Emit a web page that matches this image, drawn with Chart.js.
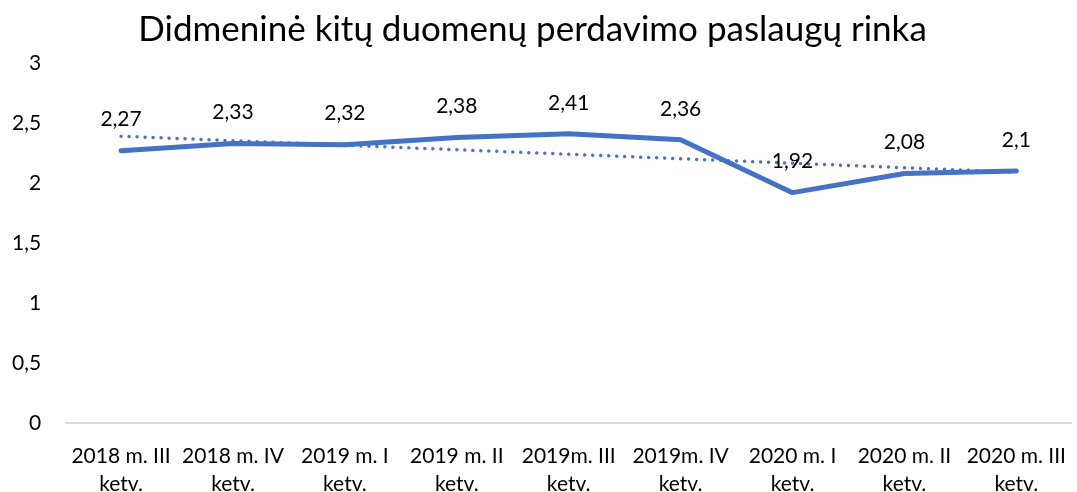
<!DOCTYPE html>
<html>
<head>
<meta charset="utf-8">
<script src="https://cdn.jsdelivr.net/npm/chart.js@4"></script>
<style>
  html, body { margin: 0; padding: 0; background: #fff; }
  #wrap { width: 1077px; height: 492px; }
</style>
</head>
<body>
<div id="wrap"><canvas id="chart"></canvas></div>
<script>
const categories = [
    ["2018 m. III", "ketv."], ["2018 m. IV", "ketv."], ["2019 m. I", "ketv."],
    ["2019 m. II", "ketv."], ["2019m. III", "ketv."], ["2019m. IV", "ketv."],
    ["2020 m. I", "ketv."], ["2020 m. II", "ketv."], ["2020 m. III", "ketv."]
];
const values = [2.27, 2.33, 2.32, 2.38, 2.41, 2.36, 1.92, 2.08, 2.1];
// trendline ends
const trendStart = 2.39;
const trendEnd = 2.09;
const yTicks = [0, 0.5, 1, 1.5, 2, 2.5, 3];

const FONT = "Lato, 'Open Sans', sans-serif";
const BLUE = "#4472C4";

const trend = values.map((v, i) => i === 0 ? trendStart : i === values.length - 1 ? trendEnd : null);
const fmt = v => String(v).replace(".", ",");

const labelPlugin = {
    id: "valueLabels",
    afterDatasetsDraw(chart) {
        const ctx = chart.ctx;
        const meta = chart.getDatasetMeta(0);
        ctx.save();
        ctx.fillStyle = "#000";
        ctx.font = `21px ${FONT}`;
        ctx.textAlign = "center";
        ctx.textBaseline = "middle";
        meta.data.forEach((pt, i) => ctx.fillText(fmt(values[i]), pt.x, pt.y - 31));
        ctx.restore();
    }
};

new Chart(document.getElementById("chart"), {
    type: "line",
    data: {
        labels: categories,
        datasets: [
            {
                data: values,
                borderColor: BLUE,
                borderWidth: 5,
                pointRadius: 0,
                tension: 0,
                borderJoinStyle: "round",
                borderCapStyle: "round"
            },
            {
                data: trend,
                borderColor: BLUE,
                borderWidth: 3.5,
                borderDash: [0, 8],
                borderCapStyle: "round",
                pointRadius: 0,
                spanGaps: true
            }
        ]
    },
    options: {
        responsive: true,
        maintainAspectRatio: false,
        animation: false,
        layout: { padding: { top: 2, left: -12, right: 0, bottom: -17 } },
        plugins: {
            legend: { display: false },
            tooltip: { enabled: false },
            title: {
                display: true,
                text: "Didmeninė kitų duomenų perdavimo paslaugų rinka",
                color: "#000",
                font: { family: FONT, size: 35, weight: "normal" },
                padding: { top: 7, bottom: 12 }
            }
        },
        scales: {
            x: {
                offset: true,
                grid: { display: false },
                border: { display: false },
                ticks: {
                    color: "#000",
                    font: { family: FONT, size: 21, lineHeight: 1.33 },
                    maxRotation: 0,
                    autoSkip: false,
                    padding: 11
                }
            },
            y: {
                min: 0,
                max: 3,
                afterBuildTicks: axis => { axis.ticks = yTicks.map(v => ({ value: v })); },
                border: { display: false },
                grid: {
                    drawTicks: false,
                    color: c => c.tick && c.tick.value === 0 ? "#d9d9d9" : "rgba(0,0,0,0)",
                    lineWidth: 2
                },
                ticks: {
                    color: "#000",
                    font: { family: FONT, size: 21 },
                    padding: 24,
                    callback: v => fmt(v)
                }
            }
        }
    },
    plugins: [labelPlugin]
});
</script>
</body>
</html>
